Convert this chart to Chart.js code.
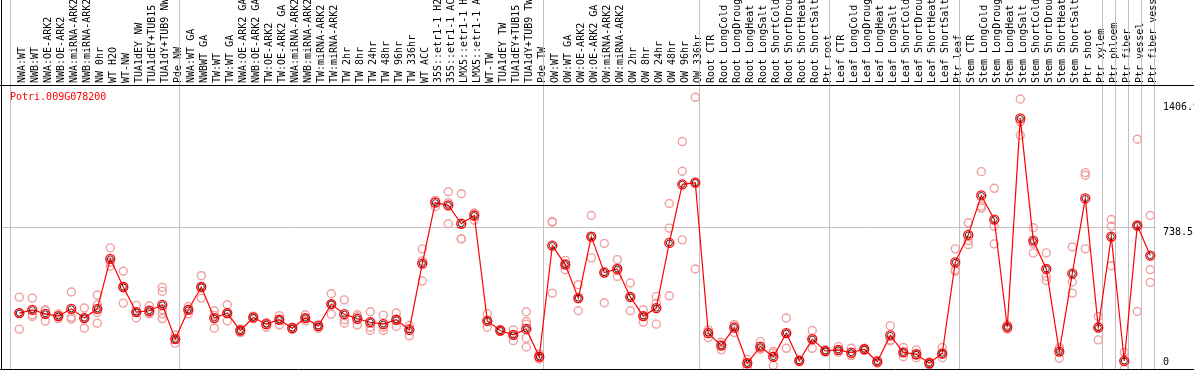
<!DOCTYPE html>
<html>
<head>
<meta charset="utf-8">
<script src="https://cdn.jsdelivr.net/npm/chart.js@4.4.1/dist/chart.umd.min.js"></script>
<style>
  html, body { margin: 0; padding: 0; background: #fff; }
  #wrap { width: 1194px; height: 370px; }
</style>
</head>
<body>
<div id="wrap"><canvas id="expr"></canvas></div>
<script>
const geneName = 'Potri.009G078200';

const samples = [
  'NWA:WT', 'NWB:WT', 'NWA:OE-ARK2', 'NWB:OE-ARK2', 'NWA:miRNA-ARK2', 'NWB:miRNA-ARK2',
  'NW 0hr', 'WT H2O', 'WT-NW', 'TUA1dEY NW', 'TUA1dEY+TUB15 NW', 'TUA1dY+TUB9 NW', 'Pde NW',
  'NWA:WT GA', 'NWBWT GA', 'TW:WT', 'TW:WT GA', 'NWA:OE-ARK2 GA', 'NWB:OE-ARK2 GA',
  'TW:OE-ARK2', 'TW:OE-ARK2 GA', 'NWA:miRNA-ARK2 GA', 'NWB:miRNA-ARK2 GA', 'TW:miRNA-ARK2',
  'TW:miRNA-ARK2 GA', 'TW 2hr', 'TW 8hr', 'TW 24hr', 'TW 48hr', 'TW 96hr', 'TW 336hr', 'WT ACC',
  '35S::etr1-1 H2O', '35S::etr1-1 ACC', 'LMX5::etr1-1 H2O', 'LMX5::etr1-1 ACC', 'WT-TW',
  'TUA1dEY TW', 'TUA1dEY+TUB15 TW', 'TUA1dY+TUB9 TW', 'Pde TW',
  'OW:WT', 'OW:WT GA', 'OW:OE-ARK2', 'OW:OE-ARK2 GA', 'OW:miRNA-ARK2', 'OW:miRNA-ARK2 GA',
  'OW 2hr', 'OW 8hr', 'OW 24hr', 'OW 48hr', 'OW 96hr', 'OW 336hr',
  'Root CTR', 'Root LongCold', 'Root LongDrought', 'Root LongHeat', 'Root LongSalt',
  'Root ShortCold', 'Root ShortDrought', 'Root ShortHeat', 'Root ShortSalt', 'Ptr root',
  'Leaf CTR', 'Leaf LongCold', 'Leaf LongDrought', 'Leaf LongHeat', 'Leaf LongSalt',
  'Leaf ShortCold', 'Leaf ShortDrought', 'Leaf ShortHeat', 'Leaf ShortSalt', 'Ptr leaf',
  'Stem CTR', 'Stem LongCold', 'Stem LongDrought', 'Stem LongHeat', 'Stem LongSalt',
  'Stem ShortCold', 'Stem ShortDrought', 'Stem ShortHeat', 'Stem ShortSalt', 'Ptr shoot',
  'Ptr xylem', 'Ptr phloem', 'Ptr fiber', 'Ptr vessel', 'Ptr fiber vessel'
];

// mean expression per sample
const means = [
  292, 309, 288, 276, 314, 266, 314, 575, 428, 297, 304, 335, 156,
  309, 428, 266, 292, 201, 269, 234, 257, 213, 266, 224, 339, 286, 262, 244, 234, 257, 204,
  550, 868, 854, 758, 801, 251, 201, 178, 209, 64,
  644, 545, 370, 691, 503, 522, 376, 276, 318, 658, 964, 973,
  187, 122, 216, 30, 117, 64, 187, 43, 156, 94,
  100, 85, 103, 38, 175, 87, 77, 30, 82, 557,
  700, 906, 780, 218, 1308, 670, 522, 91, 498, 890, 216,
  691, 42, 749, 592
];

// individual replicates per sample
const replicates = [
  [375, 292, 208], [370, 283, 274], [309, 305, 250], [288, 276, 263], [402, 271, 261],
  [318, 266, 213], [386, 335, 295, 239], [632, 557, 536], [510, 428, 344], [332, 297, 266],
  [330, 295, 288], [426, 405, 309, 288, 263], [178, 156, 135],
  [326, 309, 288], [487, 428, 370], [304, 280, 213], [335, 290, 251], [208, 201, 190],
  [276, 269, 262], [243, 234, 218], [278, 257, 230], [220, 213, 206], [283, 266, 251],
  [230, 229, 213], [393, 338, 286], [361, 257, 239], [283, 273, 230], [299, 218, 201],
  [281, 218, 201], [292, 257, 222], [227, 212, 173], [627, 564, 459], [880, 877, 847],
  [925, 868, 758], [915, 680, 679], [815, 812, 777], [288, 248, 218], [206, 201, 196],
  [204, 178, 148], [299, 248, 234, 161, 115], [78, 64, 51],
  [770, 766, 396], [567, 550, 518], [440, 367, 304], [801, 692, 580], [655, 508, 346],
  [571, 512, 483], [449, 375, 304], [309, 274, 245], [379, 344, 234], [864, 735, 382],
  [1187, 1032, 674], [1418, 973, 522],
  [204, 193, 164], [140, 126, 100], [233, 225, 190], [51, 30, 9], [143, 105, 103],
  [91, 82, 19], [266, 187, 108], [46, 43, 40], [201, 159, 108], [100, 94, 89],
  [117, 96, 88], [108, 78, 70], [108, 103, 98], [45, 38, 31], [225, 152, 147],
  [112, 86, 64], [100, 73, 59], [37, 30, 23], [112, 76, 59], [627, 518, 510],
  [763, 670, 649], [1030, 850, 840], [943, 745, 653], [230, 218, 208], [1409, 1290, 1220],
  [737, 655, 606], [606, 483, 462], [112, 105, 56], [637, 454, 396], [1025, 1011, 627],
  [274, 222, 152],
  [780, 745, 539], [87, 38, 0], [1199, 749, 300], [801, 518, 452]
];

// first sample index of each tissue group (last entry closes the plot)
const groupStarts = [0, 13, 41, 53, 63, 73, 84, 85, 86, 87, 88];
const yTicks = [0, 738.5, 1406.9];

const mono = "'DejaVu Sans Mono', monospace";
const xMin = -1.331, xMax = 87.44;
const yLabelShift = [-7, 5, 8]; // px, label centre relative to its tick

function noPad(s) {
  s.paddingLeft = 0; s.paddingRight = 0; s.paddingTop = 0; s.paddingBottom = 0;
}

const framePlugin = {
  id: 'frame',
  beforeDatasetsDraw(chart) {
    const { ctx, chartArea, scales: { x } } = chart;
    ctx.save();
    ctx.strokeStyle = '#c0c0c0';
    ctx.lineWidth = 1;
    groupStarts.forEach(s => {
      const px = Math.round(x.getPixelForValue(s - 0.68)) + 0.5;
      ctx.beginPath();
      ctx.moveTo(px, 0);
      ctx.lineTo(px, chartArea.bottom);
      ctx.stroke();
    });
    ctx.fillStyle = '#ff0000';
    ctx.font = '10px ' + mono;
    ctx.textBaseline = 'alphabetic';
    ctx.fillText(geneName, chartArea.left + 8, chartArea.top + 14);
    ctx.restore();
  },
  afterDraw(chart) {
    const { ctx, chartArea, width } = chart;
    ctx.save();
    ctx.strokeStyle = '#000';
    ctx.lineWidth = 1;
    ctx.beginPath();
    ctx.moveTo(0, chartArea.top - 0.5);
    ctx.lineTo(width, chartArea.top - 0.5);
    ctx.moveTo(0, chartArea.bottom + 0.5);
    ctx.lineTo(width, chartArea.bottom + 0.5);
    ctx.moveTo(1.5, 0);
    ctx.lineTo(1.5, chartArea.bottom);
    ctx.stroke();
    ctx.restore();
  }
};

new Chart(document.getElementById('expr'), {
  type: 'scatter',
  data: {
    datasets: [
      {
        // dark inner ring of the mean markers
        data: means.map((v, i) => ({ x: i, y: v })),
        showLine: false,
        pointRadius: 3,
        pointBorderWidth: 1,
        pointBorderColor: 'rgba(40,0,0,0.85)',
        pointBackgroundColor: 'rgba(0,0,0,0)'
      },
      {
        data: means.map((v, i) => ({ x: i, y: v })),
        showLine: true,
        borderColor: '#ff0000',
        borderWidth: 1.2,
        pointRadius: 4.5,
        pointBorderWidth: 1.3,
        pointBorderColor: '#ff0000',
        pointBackgroundColor: 'rgba(0,0,0,0)'
      },
      {
        data: replicates.flatMap((r, i) => r.map(v => ({ x: i, y: v }))),
        showLine: false,
        pointRadius: 4,
        pointBorderWidth: 1.4,
        pointBorderColor: '#f0a0a0',
        pointBackgroundColor: 'rgba(0,0,0,0)'
      }
    ]
  },
  options: {
    responsive: true,
    maintainAspectRatio: false,
    animation: false,
    events: [],
    layout: { autoPadding: false, padding: { left: 2, right: 0, top: 0, bottom: 1 } },
    plugins: { legend: { display: false }, tooltip: { enabled: false } },
    scales: {
      x: { type: 'linear', min: xMin, max: xMax, display: false, afterFit: noPad },
      xt: {
        type: 'linear', position: 'top', min: xMin, max: xMax,
        afterBuildTicks: s => { s.ticks = samples.map((_, i) => ({ value: i })); },
        afterFit: s => { s.height = 86; noPad(s); },
        grid: { display: false, drawTicks: false },
        border: { display: false },
        ticks: {
          autoSkip: false, minRotation: 90, maxRotation: 90, padding: 3, labelOffset: 15,
          color: '#000', font: { family: mono, size: 10 },
          callback: v => samples[v]
        }
      },
      y: {
        position: 'right', min: 0, max: 1477,
        afterBuildTicks: s => { s.ticks = yTicks.map(v => ({ value: v })); },
        afterFit: s => { s.width = 38; noPad(s); },
        border: { display: false },
        grid: {
          drawTicks: false,
          color: c => (c.tick && c.tick.value === 738.5) ? '#c0c0c0' : 'rgba(0,0,0,0)'
        },
        ticks: {
          padding: 7, color: '#000',
          font: c => ({ family: mono, size: 10, lineHeight: (Math.abs(yLabelShift[c.index]) * 2) + 'px' }),
          callback: (v, i) => yLabelShift[i] < 0 ? [String(v), ''] : ['', String(v)]
        }
      }
    }
  },
  plugins: [framePlugin]
});
</script>
</body>
</html>
